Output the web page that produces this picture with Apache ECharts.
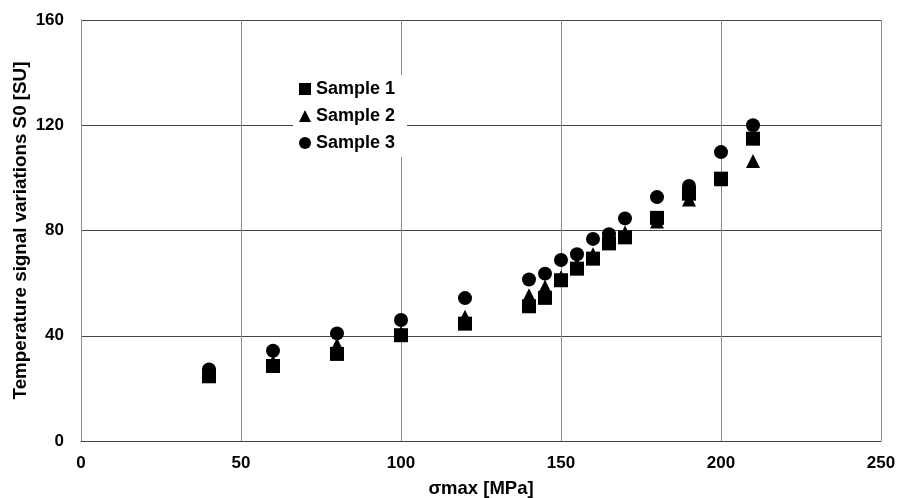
<!DOCTYPE html>
<html><head><meta charset="utf-8">
<script src="https://cdn.jsdelivr.net/npm/echarts@6/dist/echarts.min.js"></script>
<style>html,body{margin:0;padding:0;background:#fff}#c{width:898px;height:498px}</style>
</head><body><div id="c"></div>
<script>
const xValues = [40, 60, 80, 100, 120, 140, 145, 150, 155, 160, 165, 170, 180, 190, 200, 210];
const sample1 = [24.6, 28.5, 33.1, 40.2, 44.6, 51.2, 54.4, 61.1, 65.5, 69.3, 75.1, 77.4, 84.8, 94.0, 99.7, 114.9];
const sample2 = [25.6, 30.0, 36.6, 41.0, 47.2, 55.4, 58.6, 62.2, 67.0, 71.0, 77.0, 79.2, 83.4, 91.8, 99.5, 106.4];
const sample3 = [27.2, 34.3, 40.9, 46.0, 54.3, 61.4, 63.6, 68.8, 71.0, 76.8, 78.6, 84.6, 92.7, 96.9, 109.8, 120.0];
const xTicks = [0, 50, 100, 150, 200, 250];
const yTicks = [0, 40, 80, 120, 160];

const pairs = arr => xValues.map((x, i) => [x, arr[i]]);
const font = '"Liberation Sans", Arial, sans-serif';
const chart = echarts.init(document.getElementById('c'));
chart.setOption({
  animation: false,
  backgroundColor: '#fff',
  grid: { left: 81, right: 17, top: 20, bottom: 57, containLabel: false, outerBoundsMode: 'none' },
  legend: {
    orient: 'vertical', left: 293, top: 75,
    backgroundColor: '#fff', padding: [5, 12, 5, 6],
    itemWidth: 12, itemHeight: 12, itemGap: 9,
    textStyle: { fontFamily: font, fontSize: 18, fontWeight: 'bold', color: '#000', lineHeight: 18 },
    data: [
      { name: 'Sample 1', icon: 'rect' },
      { name: 'Sample 2', icon: 'triangle' },
      { name: 'Sample 3', icon: 'circle' }
    ]
  },
  xAxis: {
    type: 'value', min: xTicks[0], max: xTicks[xTicks.length - 1], interval: 50,
    name: 'σmax [MPa]', nameLocation: 'middle', nameGap: 38, nameMoveOverlap: false,
    nameTextStyle: { fontFamily: font, fontSize: 18.5, fontWeight: 'bold', color: '#000' },
    axisLine: { show: true, lineStyle: { color: '#444', width: 1 } },
    axisTick: { show: false },
    axisLabel: { fontFamily: font, fontSize: 17, fontWeight: 'bold', color: '#000', margin: 14 },
    splitLine: { show: true, lineStyle: { color: '#8a8a8a', width: 1 } }
  },
  yAxis: {
    type: 'value', min: yTicks[0], max: yTicks[yTicks.length - 1], interval: 40,
    name: 'Temperature signal variations S0 [SU]', nameLocation: 'middle', nameGap: 51, nameMoveOverlap: false,
    nameTextStyle: { fontFamily: font, fontSize: 18.8, fontWeight: 'bold', color: '#000' },
    axisLine: { show: true, lineStyle: { color: '#8a8a8a', width: 1 } },
    axisTick: { show: false },
    axisLabel: { fontFamily: font, fontSize: 17, fontWeight: 'bold', color: '#000', margin: 17 },
    splitLine: { show: true, lineStyle: { color: '#444', width: 1 } }
  },
  series: [
    { name: 'Sample 3', type: 'scatter', symbol: 'circle', symbolSize: 14, itemStyle: { color: '#000', opacity: 1 }, data: pairs(sample3), z: 2 },
    { name: 'Sample 2', type: 'scatter', symbol: 'triangle', symbolSize: 14, itemStyle: { color: '#000', opacity: 1 }, data: pairs(sample2), z: 3 },
    { name: 'Sample 1', type: 'scatter', symbol: 'rect', symbolSize: 14, itemStyle: { color: '#000', opacity: 1 }, data: pairs(sample1), z: 4 }
  ]
});
</script></body></html>
